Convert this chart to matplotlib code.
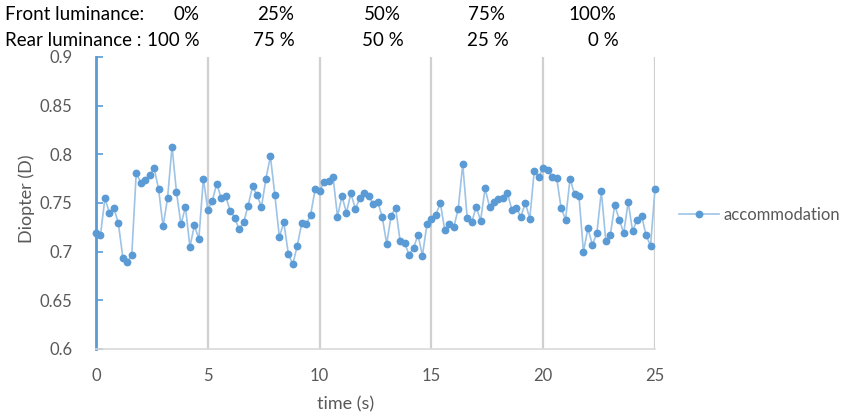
import matplotlib
matplotlib.use("Agg")
import matplotlib.pyplot as plt
import numpy as np

plt.rcParams['font.family'] = ['Lato', 'DejaVu Sans']

# sampled every 0.2 s from 0 to 25 s
time_s = np.linspace(0, 25, 126)
diopter = [
    0.719, 0.717, 0.755, 0.740, 0.745, 0.729, 0.694, 0.689, 0.697, 0.781,
    0.771, 0.774, 0.779, 0.786, 0.764, 0.726, 0.755, 0.808, 0.761, 0.728,
    0.746, 0.705, 0.727, 0.713, 0.775, 0.743, 0.752, 0.770, 0.755, 0.757,
    0.742, 0.735, 0.723, 0.730, 0.747, 0.767, 0.758, 0.746, 0.775, 0.798,
    0.758, 0.715, 0.730, 0.698, 0.687, 0.706, 0.729, 0.728, 0.738, 0.764,
    0.762, 0.772, 0.773, 0.777, 0.736, 0.757, 0.740, 0.760, 0.744, 0.755,
    0.760, 0.757, 0.749, 0.751, 0.736, 0.708, 0.737, 0.745, 0.711, 0.709,
    0.697, 0.704, 0.717, 0.696, 0.728, 0.734, 0.738, 0.750, 0.722, 0.728,
    0.725, 0.744, 0.790, 0.735, 0.730, 0.746, 0.732, 0.765, 0.746, 0.751,
    0.754, 0.755, 0.760, 0.743, 0.745, 0.736, 0.750, 0.734, 0.783, 0.777,
    0.786, 0.784, 0.777, 0.776, 0.745, 0.733, 0.775, 0.759, 0.757, 0.700,
    0.724, 0.707, 0.719, 0.762, 0.711, 0.717, 0.748, 0.733, 0.719, 0.751,
    0.721, 0.733, 0.737, 0.717, 0.706, 0.764,
]
yticks = [0.6, 0.65, 0.7, 0.75, 0.8, 0.85, 0.9]
ytick_labels = ['0.6', '0.65', '0.7', '0.75', '0.8', '0.85', '0.9']
xticks = [0, 5, 10, 15, 20, 25]
front_lum = ['0%', '25%', '50%', '75%', '100%']
rear_lum = ['100 %', '75 %', '50 %', '25 %', '0 %']

W, H = 842, 415
fig = plt.figure(figsize=(W / 100, H / 100), dpi=100)
ax = fig.add_axes([96 / W, 1 - 349 / H, (655 - 96) / W, (349 - 57) / H])

blue = '#5b9bd5'
ax.plot(time_s, diopter, color='#9dc3e6', lw=1.2, marker='o', ms=4.6,
        mfc=blue, mec=blue, label='accommodation', zorder=3, clip_on=False)

ax.set_xlim(0, 25)
ax.set_ylim(0.6, 0.9)
ax.set_xticks(xticks)
ax.set_yticks(yticks)
ax.set_yticklabels(ytick_labels)
ax.tick_params(axis='y', direction='in', length=5, width=1.2, color=blue,
               labelsize=12, labelcolor='#595959', pad=17)
ax.tick_params(axis='x', length=0, labelsize=12, labelcolor='#595959', pad=14)
for v in xticks[1:]:
    ax.axvline(v, color='#d0d0d0', lw=1.6, zorder=1)

for s in ['top', 'right']:
    ax.spines[s].set_visible(False)
ax.spines['left'].set_color(blue)
ax.spines['left'].set_linewidth(2)
ax.spines['left'].set_zorder(2)
ax.spines['bottom'].set_color('#d9d9d9')
ax.spines['bottom'].set_linewidth(1.2)

fig.text(27 / W, 1 - 199 / H, 'Diopter (D)', rotation=90, ha='center',
         va='center', fontsize=13, color='#595959')
fig.text(346 / W, 1 - 404 / H, 'time (s)', ha='center', va='center',
         fontsize=13, color='#595959')

ax.legend(loc='center left', bbox_to_anchor=(664 / W, 1 - 215 / H),
          bbox_transform=fig.transFigure, frameon=False, fontsize=12,
          handlelength=2.4, handletextpad=0.3, labelcolor='#595959')

# luminance header
hdr = dict(fontsize=13.5, color='black', va='center')
fig.text(5 / W, 1 - 14 / H, 'Front luminance:', ha='left', **hdr)
fig.text(5 / W, 1 - 40 / H, 'Rear luminance :', ha='left', **hdr)
front_x = [186, 276, 382, 486, 592]
rear_x = [173, 274, 383, 488, 603]
for lab, x in zip(front_lum, front_x):
    fig.text(x / W, 1 - 14 / H, lab, ha='center', **hdr)
for lab, x in zip(rear_lum, rear_x):
    fig.text(x / W, 1 - 40 / H, lab, ha='center', **hdr)

fig.savefig('out.png', dpi=100)
